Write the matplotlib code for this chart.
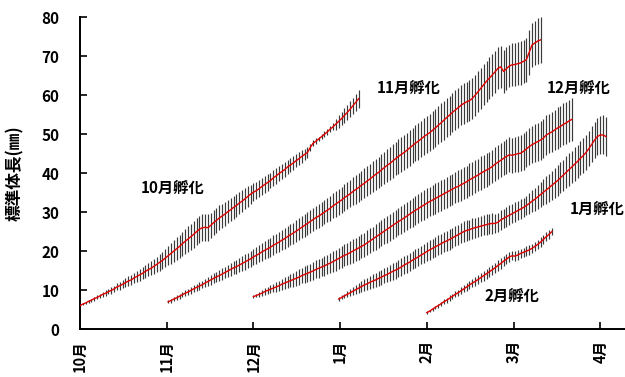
import matplotlib
matplotlib.use('Agg')
import matplotlib.pyplot as plt
import numpy as np

plt.rcParams['font.family'] = ['Noto Sans CJK JP', 'DejaVu Sans']

# ---------------- data ----------------
month_labels = ['10月', '11月', '12月', '1月', '2月', '3月', '4月']
days_per_month = 30.5
series_labels = ['10月孵化', '11月孵化', '12月孵化', '1月孵化', '2月孵化']

# 10月孵化 (day 0 = Oct 1)
oct_start = 0
oct_mean = [6.0, 6.4, 6.7, 7.1, 7.4, 7.8, 8.1, 8.5, 8.9, 9.2,
            9.6, 9.9, 10.3, 10.8, 11.1, 11.5, 11.9, 12.3, 12.6, 13.1,
            13.5, 13.9, 14.3, 14.8, 15.2, 15.6, 16.1, 16.6, 17.1, 17.6,
            18.2, 18.8, 19.4, 20.0, 20.6, 21.2, 21.9, 22.5, 23.1, 23.7,
            24.3, 25.0, 25.6, 26.0, 26.1, 26.0, 26.6, 27.3, 27.9, 28.5,
            29.0, 29.5, 30.1, 30.6, 31.2, 31.7, 32.3, 32.8, 33.4, 34.0,
            34.6, 35.1, 35.5, 36.0, 36.6, 37.1, 37.6, 38.1, 38.8, 39.3,
            39.9, 40.4, 40.9, 41.6, 42.1, 42.6, 43.2, 43.7, 44.3, 44.8,
            45.3, 46.6, 47.7, 48.2, 48.8, 49.4, 50.0, 50.6, 51.3, 51.9,
            52.6, 53.3, 54.0, 54.8, 55.6, 56.4, 57.3, 58.2, 59.1]
oct_sd = [0.2, 0.3, 0.3, 0.4, 0.4, 0.5, 0.5, 0.6, 0.6, 0.7,
          0.7, 0.8, 0.8, 0.9, 1.0, 1.0, 1.1, 1.2, 1.2, 1.3,
          1.4, 1.5, 1.5, 1.6, 1.7, 1.8, 1.9, 2.0, 2.1, 2.2,
          2.4, 2.5, 2.6, 2.8, 2.9, 3.0, 3.1, 3.2, 3.3, 3.3,
          3.4, 3.4, 3.5, 3.5, 3.4, 3.4, 3.3, 3.3, 3.2, 3.2,
          3.1, 3.1, 3.0, 3.0, 2.9, 2.9, 2.8, 2.8, 2.7, 2.6,
          2.4, 2.3, 2.2, 2.2, 2.1, 2.1, 2.1, 2.0, 2.0, 2.0,
          2.0, 1.9, 1.9, 1.9, 1.8, 1.8, 1.7, 1.7, 1.6, 1.5,
          1.3, 0.8, 0.7, 0.7, 0.6, 0.7, 0.7, 0.8, 0.8, 0.9,
          1.4, 1.6, 1.7, 1.8, 1.9, 2.0, 2.1, 2.2, 2.3]

# 11月孵化
nov_start = 31
nov_mean = [7.0, 7.3, 7.7, 8.0, 8.4, 8.8, 9.2, 9.5, 9.9, 10.3,
            10.7, 11.0, 11.4, 11.8, 12.2, 12.6, 13.0, 13.4, 13.7, 14.1,
            14.5, 14.9, 15.3, 15.7, 16.0, 16.4, 16.8, 17.2, 17.6, 18.0,
            18.5, 18.9, 19.3, 19.8, 20.2, 20.6, 21.0, 21.5, 21.9, 22.3,
            22.8, 23.2, 23.7, 24.2, 24.6, 25.1, 25.6, 26.1, 26.6, 27.1,
            27.6, 28.1, 28.6, 29.0, 29.5, 30.0, 30.5, 31.0, 31.6, 32.1,
            32.6, 33.1, 33.7, 34.2, 34.7, 35.3, 35.8, 36.3, 36.9, 37.4,
            38.0, 38.5, 39.1, 39.7, 40.2, 40.8, 41.4, 42.0, 42.5, 43.1,
            43.7, 44.3, 44.8, 45.3, 45.9, 46.5, 47.1, 47.7, 48.2, 48.8,
            49.4, 49.9, 50.4, 51.0, 51.6, 52.3, 52.9, 53.6, 54.3, 54.9,
            55.6, 56.2, 56.8, 57.4, 57.9, 58.3, 58.6, 59.2, 60.0, 60.9,
            61.8, 62.7, 63.6, 64.4, 65.2, 66.0, 66.9, 67.3, 66.1, 66.8,
            67.5, 67.8, 67.9, 68.1, 68.3, 68.7, 69.1, 71.0, 72.9, 73.4,
            73.9, 74.2]
nov_sd = [0.4, 0.5, 0.5, 0.6, 0.6, 0.7, 0.7, 0.8, 0.8, 0.9,
          0.9, 1.0, 1.0, 1.1, 1.1, 1.2, 1.3, 1.3, 1.4, 1.5,
          1.5, 1.6, 1.6, 1.7, 1.8, 1.8, 1.9, 2.0, 2.0, 2.1,
          2.1, 2.2, 2.2, 2.3, 2.3, 2.4, 2.4, 2.5, 2.5, 2.6,
          2.6, 2.6, 2.7, 2.7, 2.7, 2.8, 2.8, 2.8, 2.9, 2.9,
          2.9, 3.0, 3.0, 3.0, 3.1, 3.1, 3.1, 3.2, 3.2, 3.3,
          3.3, 3.4, 3.4, 3.5, 3.5, 3.6, 3.6, 3.7, 3.7, 3.8,
          3.8, 3.9, 3.9, 4.0, 4.0, 4.1, 4.1, 4.2, 4.2, 4.3,
          4.3, 4.4, 4.4, 4.5, 4.5, 4.6, 4.6, 4.7, 4.7, 4.7,
          4.8, 4.8, 4.8, 4.9, 4.9, 4.9, 5.0, 5.0, 5.0, 5.0,
          5.1, 5.1, 5.1, 5.1, 5.2, 5.2, 5.2, 5.2, 5.3, 5.3,
          5.3, 5.3, 5.3, 5.4, 5.4, 5.4, 5.4, 5.4, 5.5, 5.5,
          5.5, 5.5, 5.5, 5.6, 5.6, 5.6, 5.6, 5.7, 5.7, 5.7,
          5.8, 5.8]

# 12月孵化
dec_start = 61
dec_mean = [8.3, 8.6, 8.9, 9.2, 9.6, 9.9, 10.2, 10.5, 10.8, 11.1,
            11.5, 11.8, 12.1, 12.4, 12.7, 13.0, 13.3, 13.7, 14.0, 14.3,
            14.6, 14.9, 15.3, 15.6, 15.9, 16.2, 16.6, 16.9, 17.3, 17.7,
            18.1, 18.5, 18.9, 19.2, 19.6, 20.0, 20.4, 20.8, 21.2, 21.6,
            22.1, 22.6, 23.1, 23.6, 24.1, 24.6, 25.1, 25.6, 26.1, 26.6,
            27.1, 27.6, 28.0, 28.5, 29.0, 29.5, 30.0, 30.5, 30.9, 31.4,
            31.8, 32.3, 32.7, 33.1, 33.5, 33.9, 34.3, 34.7, 35.1, 35.5,
            35.9, 36.3, 36.6, 37.0, 37.4, 37.8, 38.3, 38.7, 39.1, 39.5,
            40.0, 40.4, 40.8, 41.2, 41.7, 42.3, 42.8, 43.3, 43.8, 44.3,
            44.7, 44.6, 44.8, 45.0, 45.1, 45.6, 46.2, 46.8, 47.3, 47.7,
            48.1, 48.5, 49.0, 49.8, 50.2, 50.6, 51.1, 51.6, 52.0, 52.5,
            52.9, 53.4, 53.8]
dec_sd = [0.4, 0.5, 0.6, 0.7, 0.8, 0.9, 1.0, 1.1, 1.2, 1.3,
          1.4, 1.5, 1.6, 1.7, 1.8, 1.9, 2.0, 2.0, 2.1, 2.2,
          2.2, 2.3, 2.3, 2.4, 2.4, 2.5, 2.5, 2.6, 2.6, 2.7,
          2.7, 2.8, 2.8, 2.9, 2.9, 3.0, 3.0, 3.0, 3.1, 3.1,
          3.2, 3.2, 3.2, 3.3, 3.3, 3.3, 3.4, 3.4, 3.4, 3.5,
          3.5, 3.5, 3.6, 3.6, 3.6, 3.6, 3.7, 3.7, 3.7, 3.7,
          3.8, 3.8, 3.8, 3.8, 3.9, 3.9, 3.9, 3.9, 4.0, 4.0,
          4.0, 4.0, 4.1, 4.1, 4.1, 4.1, 4.2, 4.2, 4.2, 4.2,
          4.3, 4.3, 4.3, 4.3, 4.3, 4.4, 4.4, 4.4, 4.4, 4.5,
          4.5, 4.5, 4.6, 4.6, 4.6, 4.7, 4.7, 4.8, 4.8, 4.9,
          4.9, 5.0, 5.0, 5.1, 5.1, 5.2, 5.2, 5.3, 5.3, 5.4,
          5.4, 5.5, 5.5]

# 1月孵化
jan_start = 91
jan_mean = [7.7, 8.1, 8.5, 8.9, 9.3, 9.7, 10.1, 10.5, 10.9, 11.3,
            11.6, 12.0, 12.3, 12.6, 13.0, 13.3, 13.7, 14.0, 14.4, 14.8,
            15.1, 15.5, 15.9, 16.4, 16.8, 17.2, 17.7, 18.1, 18.5, 19.0,
            19.4, 19.9, 20.3, 20.7, 21.1, 21.5, 21.9, 22.3, 22.6, 23.0,
            23.4, 23.8, 24.2, 24.6, 25.0, 25.3, 25.5, 25.8, 26.0, 26.2,
            26.4, 26.6, 26.8, 27.0, 27.1, 27.1, 27.4, 28.0, 28.4, 28.8,
            29.2, 29.6, 30.0, 30.4, 30.8, 31.2, 31.7, 32.2, 32.8, 33.3,
            33.9, 34.5, 35.1, 35.7, 36.3, 36.9, 37.5, 38.1, 38.8, 39.5,
            40.2, 40.9, 41.6, 42.3, 43.0, 43.8, 44.5, 45.3, 46.3, 47.4,
            48.5, 49.4, 49.8, 49.8, 49.4]
jan_sd = [0.4, 0.5, 0.6, 0.8, 0.9, 1.0, 1.1, 1.3, 1.4, 1.5,
          1.6, 1.7, 1.7, 1.8, 1.9, 1.9, 2.0, 2.0, 2.1, 2.1,
          2.2, 2.2, 2.2, 2.3, 2.3, 2.3, 2.4, 2.4, 2.4, 2.4,
          2.5, 2.5, 2.5, 2.5, 2.5, 2.6, 2.6, 2.6, 2.6, 2.6,
          2.6, 2.6, 2.6, 2.6, 2.6, 2.6, 2.6, 2.6, 2.6, 2.6,
          2.6, 2.6, 2.6, 2.6, 2.6, 2.5, 2.5, 2.5, 2.5, 2.5,
          2.5, 2.5, 2.5, 2.5, 2.5, 2.5, 2.5, 2.6, 2.8, 3.0,
          3.1, 3.3, 3.4, 3.5, 3.6, 3.7, 3.8, 3.9, 4.0, 4.0,
          4.1, 4.2, 4.2, 4.3, 4.3, 4.4, 4.4, 4.5, 4.5, 4.6,
          4.7, 4.8, 4.9, 5.0, 5.1]

# 2月孵化
feb_start = 122
feb_mean = [4.2, 4.6, 5.1, 5.6, 6.0, 6.5, 7.0, 7.4, 7.9, 8.4,
            8.9, 9.3, 9.8, 10.3, 10.8, 11.3, 11.8, 12.2, 12.7, 13.2,
            13.7, 14.2, 14.7, 15.2, 15.7, 16.3, 16.8, 17.4, 17.9, 18.5,
            18.8, 18.7, 19.0, 19.4, 19.7, 20.0, 20.3, 20.7, 21.2, 21.7,
            22.3, 23.0, 23.7, 24.3, 25.0]
feb_sd = [0.3, 0.3, 0.4, 0.4, 0.5, 0.5, 0.6, 0.6, 0.7, 0.7,
          0.8, 0.8, 0.9, 0.9, 1.0, 1.0, 1.1, 1.1, 1.2, 1.2,
          1.3, 1.3, 1.3, 1.3, 1.3, 1.3, 1.3, 1.3, 1.3, 1.3,
          1.2, 1.2, 1.2, 1.2, 1.2, 1.2, 1.2, 1.2, 1.2, 1.2,
          1.2, 1.2, 1.1, 1.1, 1.0]

# label anchor positions (day, value)
label_x = [32.4, 115.6, 175.4, 181.9, 151.8]
label_y = [36.3, 62.0, 61.9, 30.8, 8.5]

# ---------------- plot ----------------
fig = plt.figure(figsize=(6.25, 3.77), dpi=100)
ax = fig.add_axes([0.128, 0.1273, 0.872, 0.8268])

series = [(oct_start, oct_mean, oct_sd), (nov_start, nov_mean, nov_sd),
          (dec_start, dec_mean, dec_sd), (jan_start, jan_mean, jan_sd),
          (feb_start, feb_mean, feb_sd)]

for start, mean, sd in series:
    m = np.array(mean)
    s = np.array(sd)
    x = start + np.arange(len(m))
    ax.vlines(x, m - s, m + s, color='#3a3a3a', lw=0.85, zorder=2)
    ax.plot(x, m, color='#e00000', lw=1.0, zorder=3)

for txt, lx, ly in zip(series_labels, label_x, label_y):
    ax.text(lx, ly, txt, ha='center', va='center', fontsize=11,
            fontweight='bold', color='black')

ax.set_xlim(0, 191.7)
ax.set_ylim(0, 80)
ax.set_yticks(np.arange(0, 81, 10))
ax.set_xticks([i * days_per_month for i in range(len(month_labels))])
ax.set_xticklabels(month_labels, rotation=90, fontsize=10.5, fontweight='bold')
for lab in ax.get_yticklabels():
    lab.set_fontsize(11)
    lab.set_fontweight('bold')

ax.spines['top'].set_visible(False)
ax.spines['right'].set_visible(False)
ax.spines['left'].set_linewidth(1.4)
ax.spines['bottom'].set_linewidth(1.4)
ax.tick_params(axis='y', direction='in', length=5, width=1.2, pad=15)
ax.tick_params(axis='x', direction='in', length=5, width=1.2, pad=8)

ax.set_ylabel('標準体長(㎜)', fontsize=12, fontweight='bold', labelpad=12)

fig.savefig('out.png', dpi=100)
